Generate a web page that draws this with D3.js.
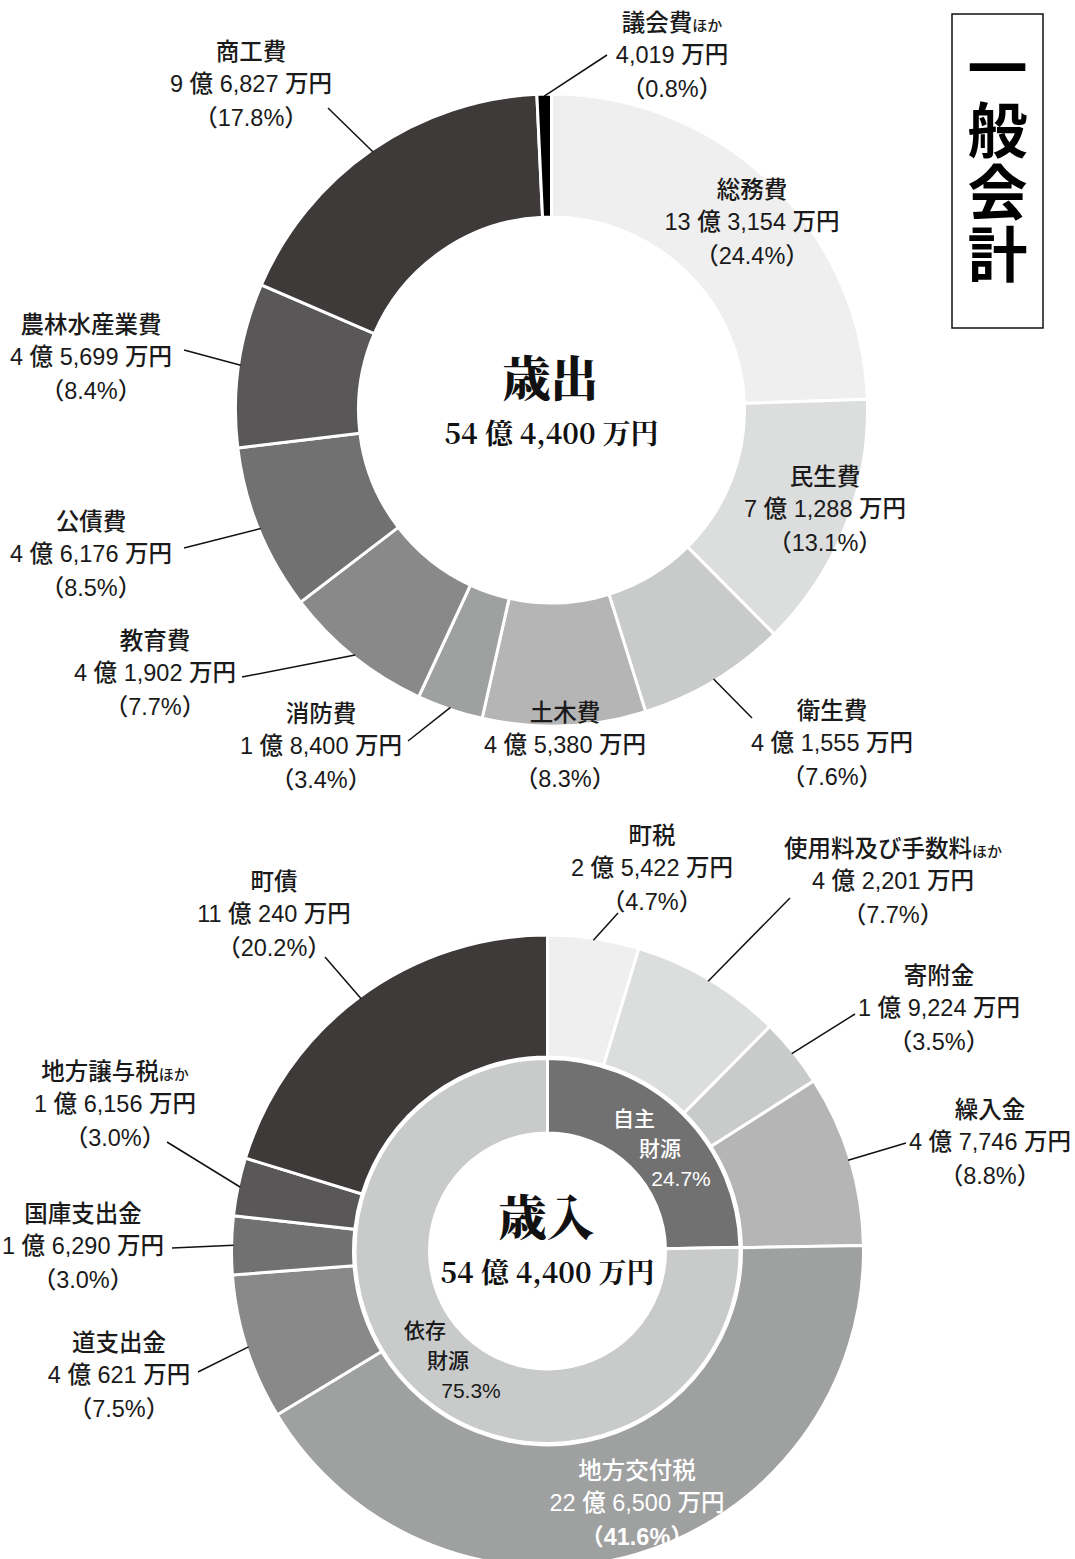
<!DOCTYPE html>
<html><head><meta charset="utf-8">
<script src="https://cdn.jsdelivr.net/npm/d3@7"></script>
<style>
html,body{margin:0;padding:0;background:#fff;}
svg{display:block;}
</style></head>
<body>
<script>
// ---------- DATA ----------
// 歳出 (expenditure), 万円, clockwise from 12 o'clock
const expCategories = ["総務費","民生費","衛生費","土木費","消防費","教育費","公債費","農林水産業費","商工費","議会費ほか"];
const expValues     = [133154, 71288, 41555, 45380, 18400, 41902, 46176, 45699, 96827, 4019];
const expPercents   = ["24.4","13.1","7.6","8.3","3.4","7.7","8.5","8.4","17.8","0.8"];

// 歳入 (revenue), 万円, clockwise from 12 o'clock
const revCategories = ["町税","使用料及び手数料ほか","寄附金","繰入金","地方交付税","道支出金","国庫支出金","地方譲与税ほか","町債"];
const revValues     = [25422, 42201, 19224, 47746, 226500, 40621, 16290, 16156, 110240];
const revPercents   = ["4.7","7.7","3.5","8.8","41.6","7.5","3.0","3.0","20.2"];

// 財源 split (inner ring)
const srcCategories = ["自主財源","依存財源"];
const srcValues     = [24.7, 75.3];
const srcPercents   = ["24.7","75.3"];

const totalLabel = "54 億 4,400 万円";
const titleText = "一般会計";

// ---------- STYLES / LAYOUT ----------
const expColors = ["#efefef","#dcdddd","#c9caca","#b5b5b6","#9fa0a0","#898989","#727171","#595757","#3e3a39","#000000"];
const revColors = ["#efefef","#dcdddd","#c9caca","#b5b5b6","#9fa0a0","#898989","#727171","#595757","#3e3a39"];
const srcColors = ["#727171","#c9caca"];

// label anchor: [centerX, firstLineCenterY, leaderEndX, leaderEndY] (null = no leader)
const expLabelLayout = [
  [752, 190, null, null],
  [825, 477, null, null],
  [832, 711, 752, 718],
  [565, 713, null, null],
  [321, 714, 408, 741],
  [155, 641, 242, 677],
  [91, 522, 184, 548],
  [91, 325, 184, 350],
  [251, 52, 328, 108],
  [672, 23, 607, 55]
];
const revLabelLayout = [
  [652, 836, 618, 913],
  [893, 849, 790, 898],
  [939, 976, 855, 1014],
  [990, 1110, 906, 1143],
  [637, 1471, null, null],
  [119, 1343, 198, 1372],
  [83, 1214, 172, 1248],
  [115, 1072, 167, 1142],
  [274, 882, 325, 957]
];
const revLabelWhite = [false,false,false,false,true,false,false,false,false];

const W = 1075, H = 1559;
const SANS = "'Liberation Sans','Noto Sans CJK JP',sans-serif";
const SERIF = "'Noto Serif CJK JP','Liberation Serif','DejaVu Serif',serif";
const TXT = "#1a1a1a";
const FS = 23.5;

const svg = d3.select("body").append("svg").attr("width", W).attr("height", H);

const pie = d3.pie().sort(null).startAngle(0).endAngle(2 * Math.PI);
const fmtComma = d3.format(",");
function fmtAmount(v) {
  const oku = Math.floor(v / 10000), man = v % 10000;
  return (oku ? oku + " 億 " : "") + fmtComma(man) + " 万円";
}
function polar(r, a) { return [r * Math.sin(a), -r * Math.cos(a)]; }

function drawLabel(g, name, amount, pct, x, y, color, boldPct) {
  const t = g.append("text").attr("text-anchor", "middle").attr("font-family", SANS)
    .attr("font-size", FS).attr("font-weight", 500).attr("fill", color);
  const base = y + FS * 0.36;
  const l1 = t.append("tspan").attr("x", x).attr("y", base);
  if (name.endsWith("ほか")) {
    l1.append("tspan").text(name.slice(0, -2));
    l1.append("tspan").attr("font-size", 15).text("ほか");
  } else {
    l1.text(name);
  }
  t.append("tspan").attr("x", x).attr("y", base + 32).text(amount);
  t.append("tspan").attr("x", x).attr("y", base + 66).text("（" + pct + "%）")
    .attr("font-weight", boldPct ? "bold" : null);
}

// ---------- 歳出 donut ----------
(function () {
  const cx = 551.5, cy = 410, rIn = 193, rOut = 316;
  const g = svg.append("g").attr("transform", `translate(${cx},${cy})`);
  const arcs = pie(expValues);
  const arc = d3.arc().innerRadius(rIn).outerRadius(rOut);
  g.selectAll("path.s").data(arcs).join("path").attr("class", "s")
    .attr("d", arc).attr("fill", (d, i) => expColors[i])
    .attr("stroke", "#fff").attr("stroke-width", 3).attr("stroke-linejoin", "miter");

  const lg = svg.append("g");
  arcs.forEach((d, i) => {
    const L = expLabelLayout[i];
    if (L[2] !== null) {
      const mid = (d.startAngle + d.endAngle) / 2;
      const p = polar(rOut - 2, mid);
      lg.append("line").attr("x1", cx + p[0]).attr("y1", cy + p[1])
        .attr("x2", L[2]).attr("y2", L[3]).attr("stroke", "#111").attr("stroke-width", 1.5);
    }
    drawLabel(lg, expCategories[i], fmtAmount(expValues[i]), expPercents[i], L[0], L[1], TXT, false);
  });

  svg.append("text").attr("x", cx - 1).attr("y", 396).attr("text-anchor", "middle")
    .attr("font-family", SERIF).attr("font-weight", 900).attr("font-size", 48).attr("fill", "#111")
    .text("歳出");
  svg.append("text").attr("x", cx).attr("y", 444).attr("text-anchor", "middle")
    .attr("font-family", SERIF).attr("font-weight", "bold").attr("font-size", 28).attr("fill", "#111")
    .text(totalLabel);
})();

// ---------- 歳入 donut ----------
(function () {
  const cx = 547.5, cy = 1251, rIn = 194, rOut = 316, r2In = 118, r2Out = 192.5;
  const g = svg.append("g").attr("transform", `translate(${cx},${cy})`);
  const arcs = pie(revValues);
  const arc = d3.arc().innerRadius(rIn).outerRadius(rOut);
  g.selectAll("path.s").data(arcs).join("path").attr("class", "s")
    .attr("d", arc).attr("fill", (d, i) => revColors[i])
    .attr("stroke", "#fff").attr("stroke-width", 3);

  const arcs2 = pie(srcValues);
  const arc2 = d3.arc().innerRadius(r2In).outerRadius(r2Out);
  g.selectAll("path.t").data(arcs2).join("path").attr("class", "t")
    .attr("d", arc2).attr("fill", (d, i) => srcColors[i])
    .attr("stroke", "#fff").attr("stroke-width", 3);

  const lg = svg.append("g");
  arcs.forEach((d, i) => {
    const L = revLabelLayout[i];
    if (L[2] !== null) {
      const mid = (d.startAngle + d.endAngle) / 2;
      const p = polar(rOut - 2, mid);
      lg.append("line").attr("x1", cx + p[0]).attr("y1", cy + p[1])
        .attr("x2", L[2]).attr("y2", L[3]).attr("stroke", "#111").attr("stroke-width", 1.5);
    }
    drawLabel(lg, revCategories[i], fmtAmount(revValues[i]), revPercents[i], L[0], L[1],
      revLabelWhite[i] ? "#fff" : TXT, revLabelWhite[i]);
  });

  // inner ring labels
  const srcLayout = [[[634, 1118], [660, 1148], [681, 1178]], [[425, 1330], [448, 1360], [471, 1390]]];
  const srcFill = ["#fff", TXT];
  srcCategories.forEach((c, i) => {
    const lines = [c.slice(0, 2), c.slice(2), srcPercents[i] + "%"];
    lines.forEach((s, j) => {
      svg.append("text").attr("x", srcLayout[i][j][0]).attr("y", srcLayout[i][j][1] + 7.5)
        .attr("text-anchor", "middle").attr("font-family", SANS).attr("font-size", 21)
        .attr("font-weight", 500).attr("fill", srcFill[i]).text(s);
    });
  });

  svg.append("text").attr("x", cx - 1).attr("y", 1235).attr("text-anchor", "middle")
    .attr("font-family", SERIF).attr("font-weight", 900).attr("font-size", 48).attr("fill", "#111")
    .text("歳入");
  svg.append("text").attr("x", cx).attr("y", 1283).attr("text-anchor", "middle")
    .attr("font-family", SERIF).attr("font-weight", "bold").attr("font-size", 28).attr("fill", "#111")
    .text(totalLabel);
})();

// ---------- Title box ----------
svg.append("rect").attr("x", 952).attr("y", 14).attr("width", 91).attr("height", 314)
  .attr("fill", "#fff").attr("stroke", "#111").attr("stroke-width", 1.5);
svg.append("text").attr("x", 997.5).attr("y", 38)
  .attr("writing-mode", "vertical-rl").style("writing-mode", "vertical-rl")
  .attr("font-family", "'Noto Sans CJK JP',sans-serif").attr("font-weight", "bold")
  .attr("font-size", 60).attr("letter-spacing", 2).attr("fill", "#000").text(titleText);
</script>
</body></html>
